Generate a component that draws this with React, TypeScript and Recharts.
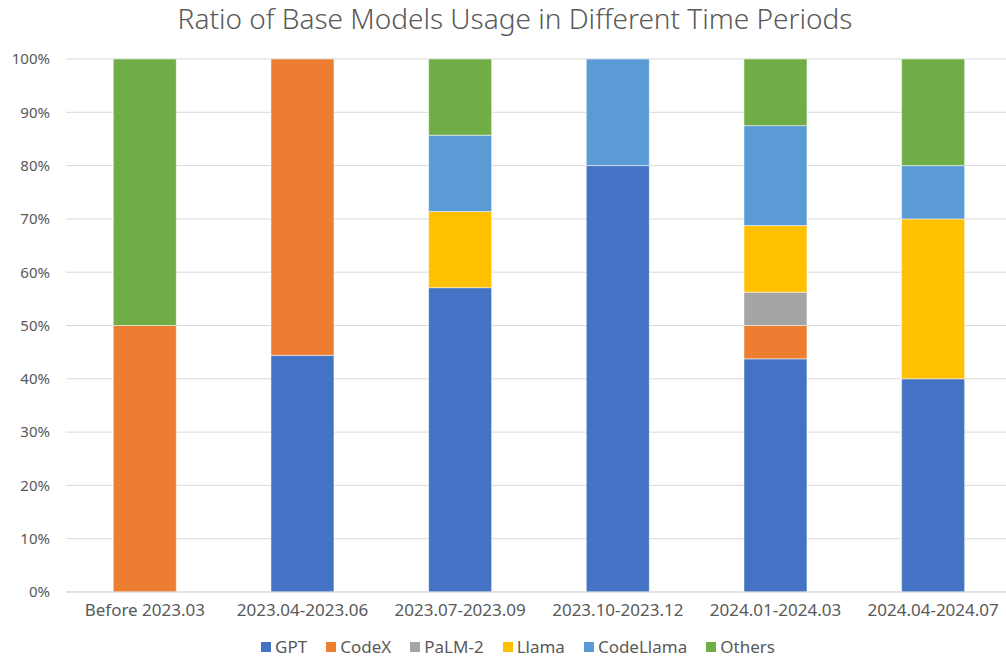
import React from "react";
import { BarChart, Bar, XAxis, YAxis, CartesianGrid, Legend } from "recharts";

const categories = [
  "Before 2023.03",
  "2023.04-2023.06",
  "2023.07-2023.09",
  "2023.10-2023.12",
  "2024.01-2024.03",
  "2024.04-2024.07",
];
const gpt = [0, 44.4, 57.1, 80, 43.75, 40];
const codex = [50, 55.6, 0, 0, 6.25, 0];
const palm2 = [0, 0, 0, 0, 6.25, 0];
const llama = [0, 0, 14.3, 0, 12.5, 30];
const codeLlama = [0, 0, 14.3, 20, 18.75, 10];
const others = [50, 0, 14.3, 0, 12.5, 20];
const yTicks = [0, 10, 20, 30, 40, 50, 60, 70, 80, 90, 100];

const series = [
  { key: "GPT", values: gpt, color: "#4472C4" },
  { key: "CodeX", values: codex, color: "#ED7D31" },
  { key: "PaLM-2", values: palm2, color: "#A5A5A5" },
  { key: "Llama", values: llama, color: "#FFC000" },
  { key: "CodeLlama", values: codeLlama, color: "#5B9BD5" },
  { key: "Others", values: others, color: "#70AD47" },
];

const data = categories.map((c, i) => {
  const row: Record<string, any> = { name: c };
  series.forEach((s) => (row[s.key] = s.values[i]));
  return row;
});

const FONT = "'Noto Sans', 'DejaVu Sans', sans-serif";

const LegendContent = () => (
  <div
    style={{
      display: "flex",
      justifyContent: "center",
      alignItems: "center",
      fontFamily: FONT,
      fontSize: 17,
      color: "#595959",
      gap: 19,
    }}
  >
    {series.map((s) => (
      <div key={s.key} style={{ display: "flex", alignItems: "center" }}>
        <span
          style={{
            display: "inline-block",
            width: 10,
            height: 10,
            background: s.color,
            marginRight: 4,
          }}
        />
        <span>{s.key}</span>
      </div>
    ))}
  </div>
);

export default function App() {
  return (
    <div
      style={{
        position: "absolute",
        left: 0,
        top: 0,
        width: 1006,
        height: 663,
        overflow: "hidden",
        background: "#fff",
        fontFamily: FONT,
      }}
    >
      <div
        style={{
          position: "absolute",
          left: 515,
          top: 1,
          transform: "translateX(-50%)",
          whiteSpace: "nowrap",
          fontSize: 28,
          lineHeight: "34px",
          fontWeight: 300,
          color: "#595959",
        }}
      >
        Ratio of Base Models Usage in Different Time Periods
      </div>
      <div style={{ position: "absolute", left: 0, top: 0 }}>
        <BarChart
          width={1012}
          height={663}
          data={data}
          margin={{ top: 59, right: 0, bottom: 11, left: 0 }}
          barCategoryGap="30%"
        >
          <CartesianGrid vertical={false} stroke="#d9d9d9" strokeWidth={1} />
          <XAxis
            dataKey="name"
            height={30}
            axisLine={{ stroke: "#d9d9d9" }}
            tickLine={false}
            tickSize={0}
            tickMargin={12}
            interval={0}
            tick={{ fill: "#595959", fontSize: 17, fontFamily: FONT }}
          />
          <YAxis
            width={66}
            domain={[0, 100]}
            ticks={yTicks}
            tickFormatter={(v: number) => `${v}%`}
            axisLine={false}
            tickLine={false}
            tickSize={0}
            tickMargin={16}
            interval={0}
            allowDataOverflow
            tick={{ fill: "#595959", fontSize: 15, fontFamily: FONT }}
          />
          <Legend
            verticalAlign="bottom"
            height={30}
            content={<LegendContent />}
            wrapperStyle={{
              top: 635,
              left: 248,
              width: 540,
            }}
          />
          {series.map((s) => (
            <Bar
              key={s.key}
              dataKey={s.key}
              stackId="a"
              fill={s.color}
              stroke="#ffffff"
              strokeWidth={0.5}
              isAnimationActive={false}
            />
          ))}
        </BarChart>
      </div>
    </div>
  );
}
